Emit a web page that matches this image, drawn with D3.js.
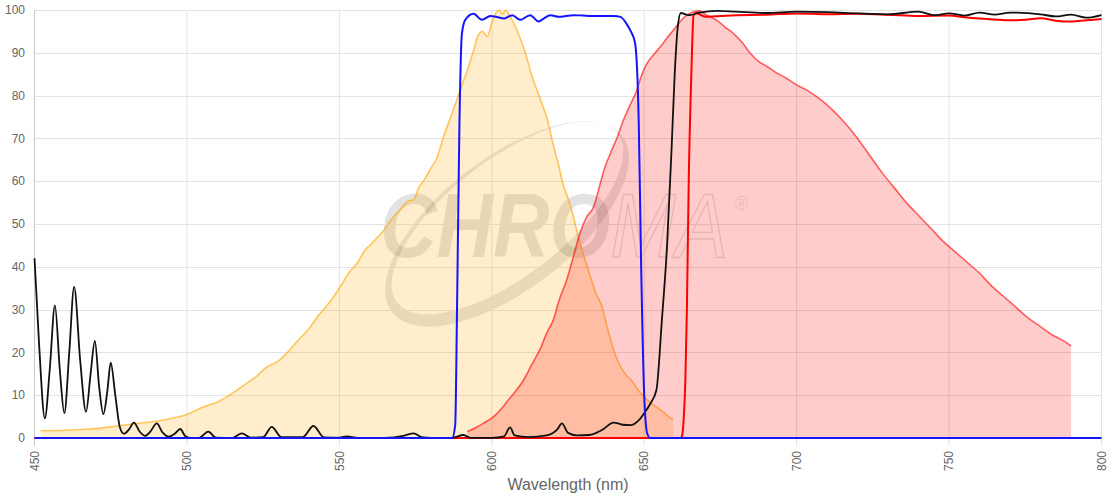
<!DOCTYPE html>
<html><head><meta charset="utf-8">
<script src="https://cdn.jsdelivr.net/npm/d3@7"></script>
<style>
body{margin:0;background:#fff;}
svg{display:block;font-family:"Liberation Sans",Arial,Helvetica,sans-serif;}
</style>
</head><body>
<svg id="chart" width="1120" height="500"></svg>
<script>
// ---------------- DATA ----------------
const xTicks = [450, 500, 550, 600, 650, 700, 750, 800];
const yTicks = [0, 10, 20, 30, 40, 50, 60, 70, 80, 90, 100];
const xTitle = "Wavelength (nm)";

// Excitation spectrum (orange filled)
const excWl  = [452,460,465,470,475,480,485,490,495,500,503,506,510,514,517,520,523,526,530,533,536,540,543,546,550,553,556,558.5,560,562,564,567,570,573,574.3,576,578,580,582,584,586,588,590,592,594,595.5,597,598.5,600,601.5,602.5,603.5,604.5,606,607.5,609,611,613,616,618,620,622,623.5,625,626.8,628,630,632,634,636,638,640,642,644,646,648,650,652,654,656,658,659.5];
const excVal = [1.7,1.8,2.0,2.2,2.6,3.1,3.5,3.9,4.6,5.5,6.5,7.4,8.4,10,11.5,13,14.5,16.5,18,20,22.5,25.5,28.5,31,35,38.5,41,44,45,46.5,48,51,53.5,55.5,55.6,58.5,60.5,63,65.5,70,74,78,82,86,90.5,94,95,93.8,97,99.5,100,99,100,98.5,96.5,94,90,85,79,75,69,63.5,59,56,51.7,48,43,38.5,34,31,25.5,20.5,17,14.8,13.3,11.2,9.6,8.3,7.2,6.2,5,4.3];

// Emission spectrum (red filled)
const emWl  = [592,595,598,600.6,603,605,607.2,610.4,613,616,618,620.2,622,624.6,627,629,631,633.4,635.6,637,638.9,641,643.2,645.5,647.6,649,650.9,653,655.3,657.5,659.6,662,664,666.2,668,670,672,674,676.5,679.3,682,684.8,687.5,690.3,693,696.8,700,704,708,712,716,720,724,728,732,736,740,744,748,752,756,760,764,768,772,776,780,784,788,790];
const emVal = [1.5,2.5,3.8,5,6.7,8.5,10.4,13.5,17,21,24.5,27.6,32,37,43,48,51.5,54,59.5,63,66.5,70,74.3,78,81.3,84.5,87.5,89.5,91.4,93.5,95.3,97.5,98.8,99.6,99.8,99,98.3,97.5,96,94.5,92.5,89.9,88,86.8,85.5,84,82.5,81,79,76.5,73.5,70,66,62,58.5,55,52,49,46,43.5,41,38.5,35.5,33,30.5,28,26,24,22.5,21.5];

// Exciter filter (blue)
const exFiltWl  = [450,587,588,588.6,589.4,590.2,591.3,594,596.8,599.5,602,603.9,606.7,609.3,612.6,615.4,617,619.2,621.9,626.8,630,635,640,642.2,644,645.4,647,648.2,649,650,651,652,800];
const exFiltVal = [0,0,3,30,74,94.5,97.7,99.1,97.7,98.6,98.3,98.0,98.8,97.7,98.8,97.3,98,98.8,98.4,98.8,98.7,98.6,98.6,98.4,97,95.3,92.3,74,40,10,1,0,0];

// Dichroic beamsplitter (black)
const dichWl  = [450,451.5,453.4,455,456.7,458.3,459.8,461.4,463,465,466.9,468.4,469.8,471.2,472.6,473.9,475,476.5,478,479.3,481,482.6,484.5,486.3,488,490.1,492,494,496,497.8,499.5,501,504,507,509.5,515,518,521,525,527.8,531,538,541.5,545,550,552.5,556,565,571,574.4,577,580,587,590.7,593,600,604,606,607.5,612,618,621.5,623,625,628,632,636,640,643,645.5,648,650,652,654,655.8,657.5,659,660,661,662,663.5,665,668,674,680,690,700,710,720,730,740,745,750,755,760,765,770,780,785,790,795,800];
const dichVal = [42,22,4.6,16,31,16,5.8,20,35.3,18,6.1,15,22.7,12,5.6,11,17.6,10,2.5,1.0,2,3.6,1.5,0.5,1.5,3.4,1.3,0.3,1,2.1,0.4,0.05,0.05,1.5,0.1,0.05,1.1,0.1,0.2,2.6,0.2,0.2,2.8,0.15,0.1,0.4,0.05,0.05,0.5,1.1,0.2,0.05,0.05,0.7,0.05,0.05,0.4,2.5,0.6,0.2,0.6,2,3.4,1.2,0.6,0.7,1.8,3.6,3.1,3.0,4.0,5.8,8,11.2,27.6,45,68,85,96,99.3,99,98.8,99.4,99.8,99.6,99.3,99.6,99.5,99.2,99.0,99.6,98.8,99.2,98.7,99.4,98.9,99.4,99.0,98.5,98.9,98.2,98.8];

// Emitter filter (red line)
const emFiltWl  = [450,662,662.4,663,663.5,664,664.6,665.4,666.2,667,670,675,680,690,700,710,720,730,740,750,755,760,765,770,775,780,785,790,795,800];
const emFiltVal = [0,0,0.5,5,13.5,30,60,83.6,98.8,99.3,98.4,98.6,98.8,98.9,99.2,99.0,99.1,98.9,98.6,98.7,98.3,98.0,97.8,97.6,97.7,98.1,97.5,97.3,97.6,97.9];

// ---------------- CHART ----------------
const svg = d3.select("#chart");
const x = d3.scaleLinear().domain([450, 800]).range([34.5, 1101.5]);
const y = d3.scaleLinear().domain([0, 100]).range([438, 10]);
const gridColor = "#e3e3e3";
const textColor = "#666";

// Watermark
function ellPath(cx, cy, a, b) {
  return `M${cx - a},${cy}A${a},${b} 0 1 0 ${cx + a},${cy}A${a},${b} 0 1 0 ${cx - a},${cy}Z`;
}
svg.append("path")
  .attr("transform", "translate(507,224) rotate(-37.5)")
  .attr("d", ellPath(0, 0, 145, 66) + ellPath(4, -4.5, 139, 58))
  .attr("fill-rule", "evenodd")
  .attr("fill", "rgba(0,0,0,0.1)");
const wmText = svg.append("text")
  .attr("transform", "translate(380,257) scale(0.87,1)")
  .attr("font-size", 90).attr("font-style", "italic");
wmText.append("tspan")
  .attr("font-weight", "bold")
  .attr("fill", "rgba(0,0,0,0.11)")
  .text("CHRO");
wmText.append("tspan")
  .attr("font-weight", "normal")
  .attr("fill", "none").attr("stroke", "rgba(0,0,0,0.12)").attr("stroke-width", 1.4)
  .text("MA");
wmText.append("tspan")
  .attr("font-size", 20).attr("font-style", "normal").attr("dx", 8).attr("dy", -47)
  .attr("fill", "rgba(0,0,0,0.12)")
  .text("®");

// Grid
const grid = svg.append("g");
grid.selectAll(".gy").data(yTicks).join("line")
  .attr("x1", x(450)).attr("x2", x(800))
  .attr("y1", d => Math.round(y(d)) + 0.5).attr("y2", d => Math.round(y(d)) + 0.5)
  .attr("stroke", gridColor).attr("stroke-width", 1);
grid.selectAll(".gx").data(xTicks).join("line")
  .attr("x1", d => x(d)).attr("x2", d => x(d))
  .attr("y1", y(100)).attr("y2", y(0) + 8)
  .attr("stroke", (d, i) => i === 0 ? "#c8c8c8" : gridColor).attr("stroke-width", 1);

// Y labels
svg.append("g").selectAll("text").data(yTicks).join("text")
  .attr("x", 25).attr("y", d => y(d))
  .attr("dy", "0.35em").attr("text-anchor", "end")
  .attr("font-size", 12).attr("fill", textColor)
  .text(d => d);

// X labels (rotated)
svg.append("g").selectAll("text").data(xTicks).join("text")
  .attr("transform", d => `translate(${x(d)},${y(0) + 13}) rotate(-90)`)
  .attr("text-anchor", "end").attr("dy", "0.35em")
  .attr("font-size", 12).attr("fill", textColor)
  .text(d => d);

// X title
svg.append("text")
  .attr("x", (x(450) + x(800)) / 2).attr("y", 490)
  .attr("text-anchor", "middle").attr("font-size", 16).attr("fill", textColor)
  .text(xTitle);

// Series helpers
const zipData = (wl, v) => wl.map((w, i) => ({ w, v: v[i] }));
const area = d3.area().x(d => x(d.w)).y0(y(0)).y1(d => y(d.v)).curve(d3.curveMonotoneX);
const line = d3.line().x(d => x(d.w)).y(d => y(d.v)).curve(d3.curveMonotoneX);

const exc = zipData(excWl, excVal);
const em = zipData(emWl, emVal);

// Filled spectra
svg.append("path").datum(exc).attr("d", area)
  .attr("fill", "rgba(255,165,0,0.2)");
svg.append("path").datum(exc).attr("d", line)
  .attr("fill", "none").attr("stroke", "rgba(255,165,0,0.6)").attr("stroke-width", 1.6);
svg.append("path").datum(em).attr("d", area)
  .attr("fill", "rgba(255,0,0,0.2)");
svg.append("path").datum(em).attr("d", line)
  .attr("fill", "none").attr("stroke", "rgba(255,0,0,0.6)").attr("stroke-width", 1.6);

// Filter lines
svg.append("path").datum(zipData(emFiltWl, emFiltVal)).attr("d", line)
  .attr("fill", "none").attr("stroke", "#ff0000").attr("stroke-width", 2);
svg.append("path").datum(zipData(dichWl, dichVal)).attr("d", line)
  .attr("fill", "none").attr("stroke", "#111").attr("stroke-width", 1.8);
svg.append("path").datum(zipData(exFiltWl, exFiltVal)).attr("d", line)
  .attr("fill", "none").attr("stroke", "#1414ff").attr("stroke-width", 2);
</script>
</body></html>
